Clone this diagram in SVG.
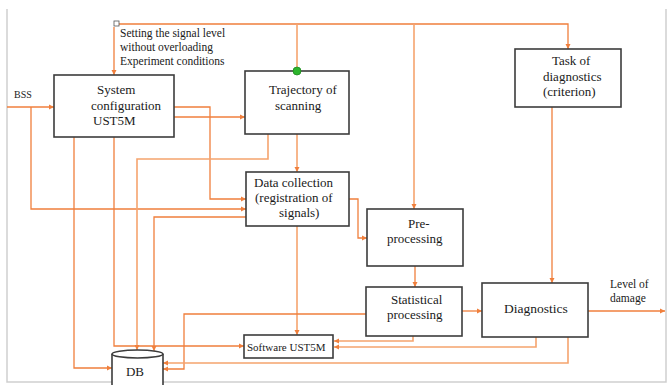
<svg xmlns="http://www.w3.org/2000/svg" width="671" height="385" viewBox="0 0 671 385">
<style>
.box{fill:#fff;stroke:#3c3c3c;stroke-width:1.6}
.t{font-family:'Liberation Serif','Times New Roman',serif;font-size:13px;fill:#1a1a1a}
.s{font-family:'Liberation Serif','Times New Roman',serif;font-size:11.5px;fill:#1a1a1a}
.c{fill:none;stroke:#F07F3C;stroke-width:1.3}
.p{fill:none;stroke:#F5A46E;stroke-width:1.6}
</style>
<defs>
<marker id="a" markerUnits="userSpaceOnUse" markerWidth="6" markerHeight="6" refX="5" refY="3" orient="auto">
<path d="M0,0.5 L5,3 L0,5.5 Z" fill="#F07F3C"/>
</marker>
</defs>
<rect width="671" height="385" fill="#fff"/>
<path d="M7,9 V382 H666 V9" fill="none" stroke="#cfcfcf" stroke-width="1.5"/>
<g id="connectors">
<path class="c" d="M119,24 H568 V49" marker-end="url(#a)"/>
<path class="c" d="M114,27 V75" marker-end="url(#a)"/>
<path class="p" d="M297,24 V67"/>
<path class="p" d="M414,24 V209" marker-end="url(#a)"/>
<path class="c" d="M7,107 H54" marker-end="url(#a)"/>
<path class="c" d="M31,107 V209 H246" marker-end="url(#a)"/>
<path class="c" d="M174,107 H210 V199 H246" marker-end="url(#a)"/>
<path class="c" d="M174,117 H245" marker-end="url(#a)"/>
<path class="c" d="M74,137 V368 H112" marker-end="url(#a)"/>
<path class="c" d="M114,137 V346 H244" marker-end="url(#a)"/>
<path class="p" d="M268,134 V159 H137 V350" marker-end="url(#a)"/>
<path class="p" d="M297,134 V172" marker-end="url(#a)"/>
<path class="c" d="M246,217 H154 V351" marker-end="url(#a)"/>
<path class="c" d="M349,199 H358 V238 H367" marker-end="url(#a)"/>
<path class="p" d="M297,226 V335" marker-end="url(#a)"/>
<path class="c" d="M415,266 V287" marker-end="url(#a)"/>
<path class="c" d="M462,311 H482" marker-end="url(#a)"/>
<path class="c" d="M366,314 H184 V369 H163" marker-end="url(#a)"/>
<path class="p" d="M413,336 V341 H334" marker-end="url(#a)"/>
<path class="p" d="M536,337 V347 H334" marker-end="url(#a)"/>
<path class="p" d="M568,337 V363 H163" marker-end="url(#a)"/>
<path class="c" d="M552,107 V283" marker-end="url(#a)"/>
<path class="c" d="M588,311 H665" marker-end="url(#a)"/>
</g>
<g id="input-square">
<rect x="114" y="21" width="5" height="5" fill="#fff" stroke="#555" stroke-width="0.8"/>
<text class="s" x="120" y="37">Setting the signal level</text>
<text class="s" x="120" y="51">without overloading</text>
<text class="s" x="120" y="65">Experiment conditions</text>
</g>
<g id="bss"><text class="s" x="14" y="98" style="font-size:10px">BSS</text></g>
<g id="system-config">
<rect class="box" x="54" y="75" width="120" height="62"/>
<text class="t" x="97" y="94">System</text>
<text class="t" x="91" y="110">configuration</text>
<text class="t" x="93" y="125">UST5M</text>
</g>
<g id="trajectory">
<rect class="box" x="245" y="71" width="104" height="63"/>
<text class="t" x="269" y="94">Trajectory of</text>
<text class="t" x="275" y="110">scanning</text>
<circle cx="297" cy="71" r="4" fill="#2DB52D" stroke="#1E8A1E" stroke-width="0.8"/>
</g>
<g id="data-collection">
<rect class="box" x="246" y="172" width="103" height="54"/>
<text class="t" x="254" y="187">Data collection</text>
<text class="t" x="255" y="202">(registration of</text>
<text class="t" x="279" y="217">signals)</text>
</g>
<g id="pre-processing">
<rect class="box" x="367" y="209" width="96" height="57"/>
<text class="t" x="408" y="228">Pre-</text>
<text class="t" x="387" y="243">processing</text>
</g>
<g id="statistical">
<rect class="box" x="366" y="287" width="96" height="49"/>
<text class="t" x="391" y="304">Statistical</text>
<text class="t" x="387" y="319">processing</text>
</g>
<g id="diagnostics">
<rect class="box" x="482" y="283" width="106" height="54"/>
<text class="t" x="504" y="313" style="font-size:13.5px">Diagnostics</text>
</g>
<g id="task">
<rect class="box" x="515" y="49" width="106" height="58"/>
<text class="t" x="552" y="65">Task of</text>
<text class="t" x="543" y="81">diagnostics</text>
<text class="t" x="543" y="96">(criterion)</text>
</g>
<g id="software">
<rect class="box" x="244" y="335" width="89" height="23"/>
<text class="t" x="247" y="351" style="font-size:11px">Software UST5M</text>
</g>
<g id="db">
<rect x="112" y="354" width="51" height="31" fill="#fff"/>
<path d="M112,354 V385 M163,354 V385" fill="none" stroke="#3c3c3c" stroke-width="1.6"/>
<ellipse cx="137.5" cy="354" rx="25.5" ry="4" fill="#fff" stroke="#3c3c3c" stroke-width="1.6"/>
<text class="t" x="135" y="376" text-anchor="middle">DB</text>
</g>
<g id="output-label">
<text class="s" x="610" y="288">Level of</text>
<text class="s" x="610" y="302">damage</text>
</g>
</svg>
